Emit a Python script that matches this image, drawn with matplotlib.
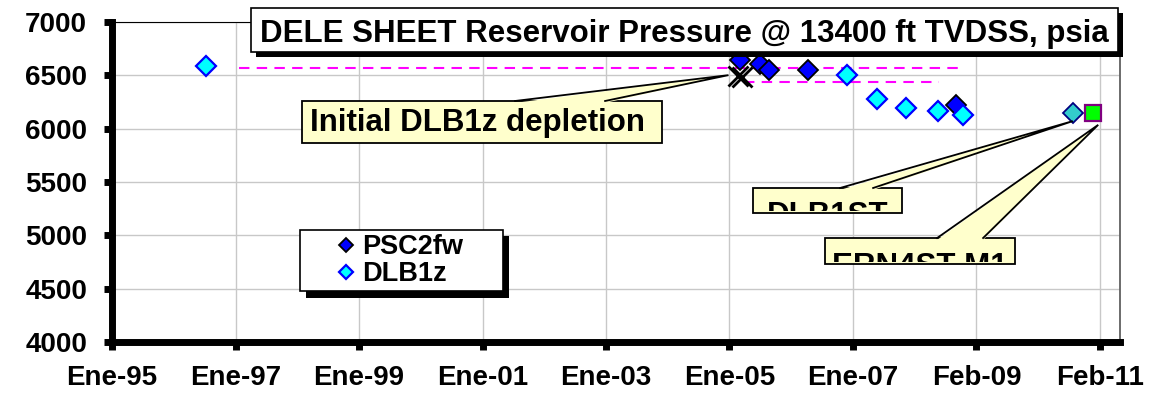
import numpy as np
import matplotlib
matplotlib.use('Agg')
import matplotlib.pyplot as plt
import matplotlib.dates as mdates
from matplotlib.patches import Rectangle, Polygon

plt.rcParams['font.family'] = ['Liberation Sans', 'DejaVu Sans']
plt.rcParams['font.weight'] = 'bold'

# presiones medidas, psia
psc2fw_fechas = ['2005-03-29', '2005-07-24', '2005-09-16', '2006-05-05', '2008-10-05']
psc2fw_psia = [6645, 6600, 6545, 6550, 6220]

dlb1z_fechas = ['1996-07-19', '2006-12-24', '2007-06-21', '2007-12-09', '2008-06-21', '2008-11-17']
dlb1z_psia = [6590, 6500, 6280, 6195, 6160, 6130]

dlb1st_fechas = ['2010-08-29']
dlb1st_psia = [6150]

ern4st_fechas = ['2010-12-28']
ern4st_psia = [6145]

# inicio de la deplecion DLB1z
depl_fechas = ['2005-03-20', '2005-04-08']
depl_psia = [6490, 6480]

# lineas de referencia
ref_sup_fechas = ['1997-02-02', '2008-10-16']
ref_sup_psia = [6570, 6570]
ref_inf_fechas = ['2005-04-20', '2008-06-25']
ref_inf_psia = [6440, 6440]

etiquetas_x = ['Ene-95', 'Ene-97', 'Ene-99', 'Ene-01', 'Ene-03',
               'Ene-05', 'Ene-07', 'Feb-09', 'Feb-11']
psia_ticks = [4000, 4500, 5000, 5500, 6000, 6500, 7000]

titulo = 'DELE SHEET Reservoir Pressure @ 13400 ft TVDSS, psia'


def fechas(lista):
    return mdates.date2num(np.array(lista, dtype='datetime64[D]'))


AMARILLO = '#FFFFCC'


# globo de texto con cuña hacia un punto (caja en fraccion de ejes, punta en datos)
def globo(ax, caja, base, punta, texto, tx, ty, va='center', ha='left'):
    x0, y0, x1, y1 = caja
    px, py = ax.transLimits.transform(punta)
    ax.add_patch(Rectangle((x0, y0), x1 - x0, y1 - y0, transform=ax.transAxes,
                           fc=AMARILLO, ec='black', lw=1.3, zorder=6, clip_on=False))
    ax.add_patch(Polygon([(base[0], y1 - 0.006), (px, py), (base[1], y1 - 0.006)],
                         closed=True, transform=ax.transAxes, fc=AMARILLO, ec='none',
                         zorder=6.1, clip_on=False))
    ax.plot([base[0], px, base[1]], [y1, py, y1], transform=ax.transAxes,
            color='black', lw=1.3, zorder=6.2, clip_on=False, solid_joinstyle='miter')
    recorte = Rectangle((x0, y0 + 0.005), x1 - x0, y1 - y0 - 0.005, transform=ax.transAxes)
    t = ax.text(tx, ty, texto, transform=ax.transAxes, ha=ha, va=va,
                fontsize=22.5, fontweight='bold', zorder=6.3)
    t.set_clip_on(True)
    t.set_clip_path(recorte)


fig = plt.figure(figsize=(11.6, 3.96), dpi=100)
ax = fig.add_axes([0.0966, 0.1356, 0.8690, 0.8096])

inicio = fechas(['1995-01-09'])[0]
ax.set_xlim(inicio, inicio + 5992)
ax.set_ylim(4000, 7000)
ax.set_xticks(inicio + 734 * np.arange(len(etiquetas_x)))
ax.set_xticklabels(etiquetas_x)
ax.set_yticks(psia_ticks)
ax.set_yticklabels([str(v) for v in psia_ticks])

ax.grid(True, color='#C8C8C8', lw=1.0, zorder=0)
ax.set_axisbelow(True)
for lado in ['left', 'bottom']:
    ax.spines[lado].set_linewidth(5)
    ax.spines[lado].set_color('black')
ax.spines['top'].set_linewidth(0.8)
ax.spines['right'].set_linewidth(1.3)
ax.spines['right'].set_color('#606060')
ax.tick_params(axis='both', direction='out', length=6, width=5, labelsize=20, color='black')
ax.tick_params(axis='x', pad=10)
ax.tick_params(axis='y', pad=12)

# lineas de referencia punteadas
ax.plot(fechas(ref_sup_fechas), ref_sup_psia, color='#FF00FF', lw=1.5, dashes=(5, 3.5), zorder=2)
ax.plot(fechas(ref_inf_fechas), ref_inf_psia, color='#FF00FF', lw=1.5, dashes=(5, 3.5), zorder=2)

l1, = ax.plot(fechas(psc2fw_fechas), psc2fw_psia, ls='none', marker='D', ms=10.5,
              mfc='#0000FF', mec='black', mew=1.3, zorder=4, label='PSC2fw')
l2, = ax.plot(fechas(dlb1z_fechas), dlb1z_psia, ls='none', marker='D', ms=10.5,
              mfc='#00FFFF', mec='#0000FF', mew=1.6, zorder=4, label='DLB1z')
ax.plot(fechas(dlb1st_fechas), dlb1st_psia, ls='none', marker='D', ms=10.5,
        mfc='#33CCCC', mec='#000080', mew=1.3, zorder=4)
ax.plot(fechas(ern4st_fechas), ern4st_psia, ls='none', marker='s', ms=12,
        mfc='#00FF00', mec='#800080', mew=1.6, zorder=4)
ax.plot(fechas(depl_fechas), depl_psia, ls='none', marker='x', ms=14,
        mec='black', mew=2.0, zorder=4.5)

# globos
globo(ax, (0.1885, 0.6216, 0.5456, 0.7527), (0.3998, 0.4891),
      (fechas(['2005-01-20'])[0], 6500), 'Initial DLB1z depletion', 0.196, 0.684)
globo(ax, (0.6359, 0.4033, 0.7837, 0.4813), (0.7222, 0.7550),
      (fechas(dlb1st_fechas)[0], dlb1st_psia[0] - 80), 'DLB1ST',
      0.7098, 0.440, va='top', ha='center')
globo(ax, (0.7073, 0.2442, 0.8958, 0.3253), (0.8185, 0.8641),
      (fechas(ern4st_fechas)[0] + 30, ern4st_psia[0] - 110), 'ERN4ST M1',
      0.8016, 0.282, va='top', ha='center')

# leyenda con sombra
lx0, ly0, lx1, ly1 = 0.1865, 0.1585, 0.3879, 0.3503
ax.add_patch(Rectangle((lx0 + 0.006, ly0 - 0.019), lx1 - lx0, ly1 - ly0, transform=ax.transAxes,
                       fc='black', ec='none', zorder=7, clip_on=False))
ax.add_patch(Rectangle((lx0, ly0), lx1 - lx0, ly1 - ly0, transform=ax.transAxes,
                       fc='white', ec='black', lw=1.2, zorder=7.1, clip_on=False))
leg = ax.legend(handles=[l1, l2], loc='center', bbox_to_anchor=((lx0 + lx1) / 2 - 0.002, (ly0 + ly1) / 2),
                frameon=False, fontsize=19.5, handlelength=0.8, handletextpad=0.2,
                labelspacing=0.05, borderpad=0, markerscale=0.7)
leg.set_zorder(7.2)

# titulo en recuadro con sombra
tx0, ty0, tx1, ty1 = 0.2161, 0.8687, 0.9638, 0.9798
fig.add_artist(Rectangle((tx0 + 0.0043, ty0 - 0.0126), tx1 - tx0, ty1 - ty0,
                         transform=fig.transFigure, fc='black', ec='none', zorder=10))
fig.add_artist(Rectangle((tx0, ty0), tx1 - tx0, ty1 - ty0, transform=fig.transFigure,
                         fc='white', ec='black', lw=1.2, zorder=11))
fig.text((tx0 + tx1) / 2, 0.9242, titulo, ha='center', va='center_baseline',
         fontsize=22.5, fontweight='bold', zorder=12)

fig.savefig('out.png', dpi=100)
